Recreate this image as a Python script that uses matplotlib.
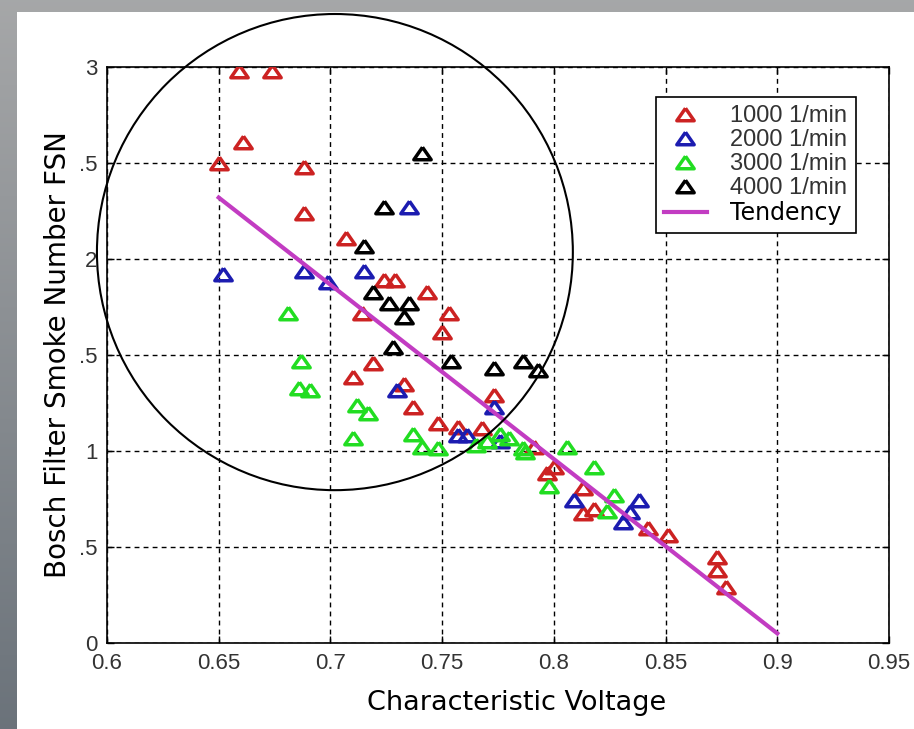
import numpy as np
import matplotlib
matplotlib.use("Agg")
import matplotlib.pyplot as plt
from matplotlib.patches import Ellipse, Rectangle

# data (characteristic voltage, FSN)
x_1000 = [0.659, 0.674, 0.661, 0.650, 0.688, 0.688, 0.707, 0.724, 0.729, 0.743,
          0.714, 0.753, 0.750, 0.719, 0.710, 0.733, 0.737, 0.748, 0.757, 0.773,
          0.768, 0.791, 0.800, 0.797, 0.813, 0.813, 0.818, 0.842, 0.851, 0.873,
          0.873, 0.877]
y_1000 = [2.98, 2.98, 2.61, 2.50, 2.48, 2.24, 2.11, 1.89, 1.89, 1.83,
          1.72, 1.72, 1.62, 1.46, 1.385, 1.35, 1.23, 1.146, 1.125, 1.29,
          1.12, 1.02, 0.917, 0.885, 0.807, 0.677, 0.70, 0.60, 0.56, 0.45,
          0.38, 0.29]

x_2000 = [0.652, 0.688, 0.699, 0.715, 0.735, 0.730, 0.773, 0.757, 0.761, 0.776,
          0.809, 0.831, 0.838, 0.834]
y_2000 = [1.92, 1.94, 1.88, 1.94, 2.27, 1.32, 1.23, 1.083, 1.083, 1.05,
          0.745, 0.63, 0.745, 0.68]

x_3000 = [0.681, 0.687, 0.686, 0.691, 0.712, 0.717, 0.710, 0.737, 0.741, 0.748,
          0.765, 0.770, 0.776, 0.780, 0.786, 0.787, 0.806, 0.818, 0.798, 0.827,
          0.824]
y_3000 = [1.72, 1.47, 1.33, 1.32, 1.24, 1.20, 1.07, 1.09, 1.02, 1.015,
          1.03, 1.05, 1.09, 1.07, 1.015, 0.995, 1.02, 0.917, 0.82, 0.77,
          0.69]

x_4000 = [0.741, 0.724, 0.715, 0.719, 0.726, 0.735, 0.733, 0.728, 0.754, 0.773,
          0.786, 0.793]
y_4000 = [2.55, 2.27, 2.07, 1.83, 1.77, 1.77, 1.70, 1.54, 1.47, 1.43,
          1.47, 1.42]

x_trend = [0.65, 0.90]
y_trend = [2.32, 0.05]

series_labels = ['1000 1/min', '2000 1/min', '3000 1/min', '4000 1/min']
series_colors = ['#cc2222', '#1c1cb0', '#22dd22', '#000000']

x_ticks = [0.6, 0.65, 0.7, 0.75, 0.8, 0.85, 0.9, 0.95]
x_ticklabels = ['0.6', '0.65', '0.7', '0.75', '0.8', '0.85', '0.9', '0.95']
y_ticks = [0, 0.5, 1, 1.5, 2, 2.5, 3]
y_ticklabels = ['0', '.5', '1', '.5', '2', '.5', '3']

W, H = 914, 729
fig = plt.figure(figsize=(W / 100, H / 100), dpi=100)

# gray textured frame + white panel
bg = fig.add_axes([0, 0, 1, 1], zorder=-5)
grad = np.linspace(0, 1, 256).reshape(-1, 1)
top_c = np.array([0.65, 0.655, 0.66])
bot_c = np.array([0.42, 0.45, 0.48])
img = top_c[None, None, :] * (1 - grad[:, :, None]) + bot_c[None, None, :] * grad[:, :, None]
bg.imshow(img, extent=[0, 1, 0, 1], aspect='auto', origin='upper')
bg.add_patch(Rectangle((17 / W, 0), 1, (H - 12) / H, facecolor='white', edgecolor='none'))
bg.set_xlim(0, 1)
bg.set_ylim(0, 1)
bg.axis('off')

ax = fig.add_axes([107 / W, 1 - 643 / H, (889 - 107) / W, (643 - 67) / H])
ax.set_facecolor('white')

tri = [(0, 0.72), (-1, -0.72), (1, -0.72), (0, 0.72)]
xs = [x_1000, x_2000, x_3000, x_4000]
ys = [y_1000, y_2000, y_3000, y_4000]
handles = []
for x, y, lab, c in zip(xs, ys, series_labels, series_colors):
    h, = ax.plot(x, y, linestyle='none', marker=tri, markersize=12.5,
                 markerfacecolor='none', markeredgecolor=c, markeredgewidth=2.5,
                 label=lab, zorder=3)
    handles.append(h)

ht, = ax.plot(x_trend, y_trend, color='#c23cc2', linewidth=3, label='Tendency', zorder=4)
handles.append(ht)

ax.set_xlim(0.6, 0.95)
ax.set_ylim(0, 3)
ax.set_xticks(x_ticks)
ax.set_xticklabels(x_ticklabels)
ax.set_yticks(y_ticks)
ax.set_yticklabels(y_ticklabels)
ax.tick_params(direction='in', top=True, right=True, length=5, width=1,
               labelsize=16, labelcolor='#333333', pad=7)
for t in ax.get_xticklabels() + ax.get_yticklabels():
    t.set_fontfamily('Liberation Sans')
ax.grid(True, color='black', linestyle=(0, (3.5, 3)), linewidth=1)
ax.set_axisbelow(False)
for s in ax.spines.values():
    s.set_linewidth(1.2)

ax.set_xlabel('Characteristic Voltage', fontsize=19.5, family='DejaVu Sans')
ax.xaxis.set_label_coords(0.524, -0.082)
ax.set_ylabel('Bosch Filter Smoke Number FSN', fontsize=20, family='DejaVu Sans')
ax.yaxis.set_label_coords(-0.045, 0.5)

leg = ax.legend(handles=handles, loc='upper left', bbox_to_anchor=(0.702, 0.948),
                borderaxespad=0, prop={'family': 'Liberation Sans', 'size': 17},
                frameon=True, fancybox=False, framealpha=1, edgecolor='black',
                borderpad=0.35, labelspacing=0.08, handlelength=1.8,
                handletextpad=1.0)
leg.get_frame().set_linewidth(1.2)
for i, t in enumerate(leg.get_texts()):
    if i < 4:
        t.set_color('#333333')
    else:
        t.set_fontfamily('DejaVu Sans')
        t.set_fontsize(17)
        t.set_color('black')

# hand-drawn circle marking the scattered region
circ = Ellipse((0.702, 2.036), 0.213, 2.48, fill=False, edgecolor='black',
               linewidth=1.5, clip_on=False, zorder=5)
ax.add_patch(circ)

fig.savefig('out.png', dpi=100)
